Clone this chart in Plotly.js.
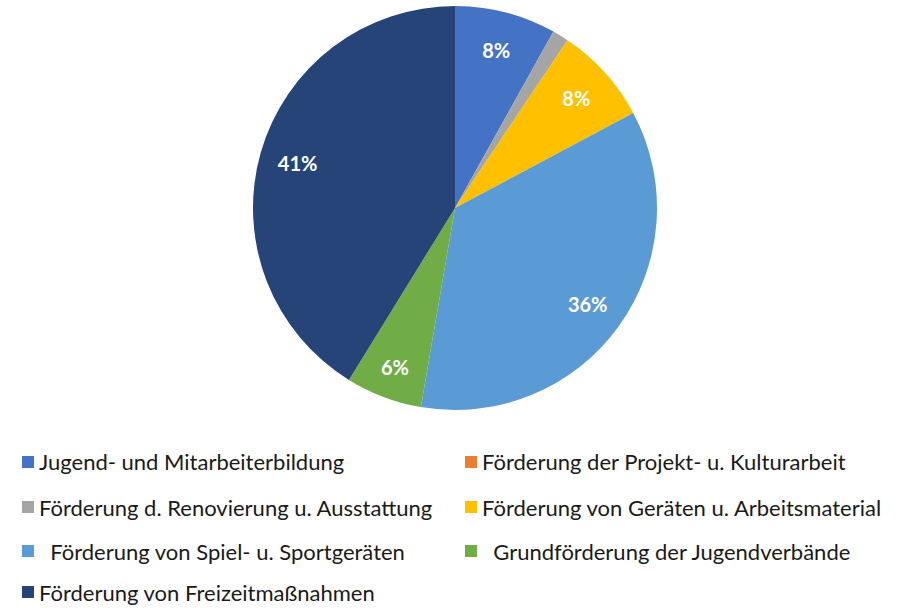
<!DOCTYPE html>
<html><head><meta charset="utf-8">
<script src="https://cdn.plot.ly/plotly-3.0.1.min.js"></script>
<style>html,body{margin:0;padding:0;background:#fff}</style>
</head><body>
<div id="chart" style="width:912px;height:608px"></div>
<script>
const categories = [
  "Jugend- und Mitarbeiterbildung",
  "Förderung der Projekt- u. Kulturarbeit",
  "Förderung d. Renovierung u. Ausstattung",
  "Förderung von Geräten u. Arbeitsmaterial",
  " Förderung von Spiel- u. Sportgeräten",
  " Grundförderung der Jugendverbände",
  "Förderung von Freizeitmaßnahmen"
];
const values = [8.1, 0, 1.3, 7.8, 35.5, 6.1, 41.2];
const showLabel = [true, false, false, true, true, true, true];
const colors = ["#4472C4", "#ED7D31", "#A5A5A5", "#FFC000", "#5B9BD5", "#70AD47", "#264478"];

const W = 912, H = 608;
const cx = 455, cy = 208, r = 202;
const FONT = "Lato, 'Open Sans', sans-serif";
const domain = {x: [(cx - r) / W, (cx + r) / W], y: [1 - (cy + r) / H, 1 - (cy - r) / H]};

const pie = {
  type: "pie",
  values: values,
  labels: categories,
  sort: false,
  direction: "clockwise",
  rotation: 0,
  marker: {colors: colors, line: {width: 0}},
  textinfo: "none",
  hoverinfo: "label+percent",
  domain: domain,
  showlegend: false
};

// transparent ring carrying the percentage labels further out in each slice
const labelRing = {
  type: "pie",
  values: values,
  labels: categories,
  sort: false,
  direction: "clockwise",
  rotation: 0,
  hole: 0.62,
  marker: {colors: colors.map(() => "rgba(0,0,0,0)"), line: {width: 0}},
  texttemplate: showLabel.map(s => s ? "<b>%{percent:.0%}</b>" : ""),
  textposition: "inside",
  insidetextorientation: "horizontal",
  insidetextfont: {color: "#ffffff", size: 20, family: FONT},
  hoverinfo: "skip",
  domain: domain,
  showlegend: false
};

// legend layout: two columns, four rows
const colX = [22, 465];
const rowY = [462, 507, 551, 592];
const annotations = [], shapes = [];
categories.forEach((c, i) => {
  const col = i % 2, row = Math.floor(i / 2);
  const x0 = colX[col], y = rowY[row];
  shapes.push({type: "rect", xref: "paper", yref: "paper",
    x0: x0 / W, x1: (x0 + 12) / W, y0: 1 - (y + 6) / H, y1: 1 - (y - 6) / H,
    fillcolor: colors[i], line: {width: 0}});
  annotations.push({xref: "paper", yref: "paper", x: (x0 + 15) / W, y: 1 - y / H,
    xanchor: "left", yanchor: "middle", showarrow: false,
    text: c.replace(/^ /, "\u00a0\u00a0"),
    font: {family: FONT, size: 22, color: "#1a1a1a"}});
});

Plotly.newPlot("chart", [pie, labelRing], {
  width: W, height: H,
  margin: {l: 0, r: 0, t: 0, b: 0},
  paper_bgcolor: "#ffffff",
  showlegend: false,
  annotations: annotations,
  shapes: shapes
}, {displayModeBar: false});
</script>
</body></html>
